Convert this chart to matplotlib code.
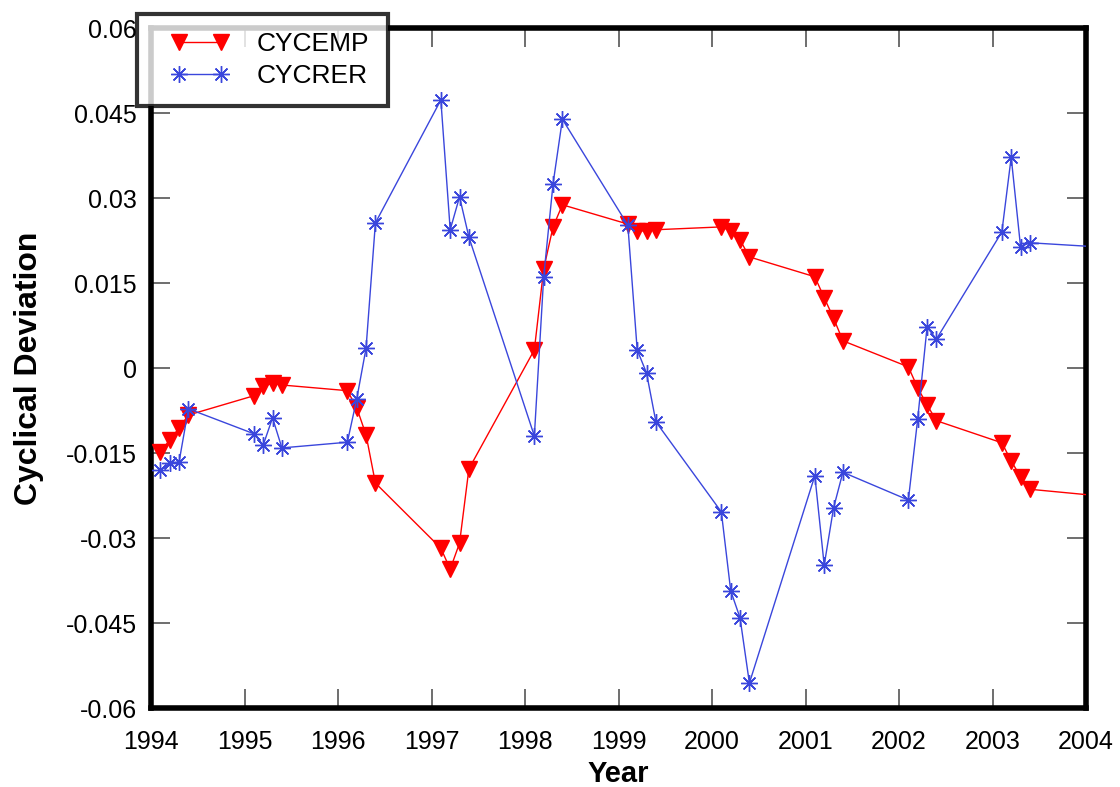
import matplotlib
matplotlib.use("Agg")
import matplotlib.pyplot as plt
from matplotlib.legend_handler import HandlerLine2D
from matplotlib.lines import Line2D

plt.rcParams['font.family'] = ['Liberation Sans', 'DejaVu Sans']

years = [1994, 1995, 1996, 1997, 1998, 1999, 2000, 2001, 2002, 2003, 2004]
quarter_step = 0.1

cycemp = [
    -0.0148, -0.0127, -0.0106, -0.0083,
    -0.0049, -0.0032, -0.0027, -0.0030,
    -0.0040, -0.0070, -0.0118, -0.0203,
    -0.0318, -0.0355, -0.0309, -0.0178,
    0.0032, 0.0175, 0.0249, 0.0288,
    0.0254, 0.0242, 0.0242, 0.0244,
    0.0249, 0.0242, 0.0226, 0.0196,
    0.0161, 0.0124, 0.0088, 0.0048,
    0.0002, -0.0035, -0.0065, -0.0093,
    -0.0132, -0.0164, -0.0192, -0.0214,
    -0.0225,
]
cycrer = [
    -0.0180, -0.0168, -0.0166, -0.0072,
    -0.0116, -0.0136, -0.0088, -0.0141,
    -0.0131, -0.0055, 0.0035, 0.0256,
    0.0473, 0.0244, 0.0302, 0.0231,
    -0.0120, 0.0161, 0.0325, 0.0439,
    0.0252, 0.0032, -0.0009, -0.0095,
    -0.0254, -0.0393, -0.0441, -0.0556,
    -0.0190, -0.0348, -0.0247, -0.0184,
    -0.0233, -0.0090, 0.0072, 0.0051,
    0.0240, 0.0372, 0.0214, 0.0221,
    0.0214,
]

# x positions: year + quarter/10 (as in the source plot)
x = []
for y in years:
    for q in range(1, 5):
        x.append(y + q * quarter_step)
x = x[:len(cycemp)]

xticks = years
yticks = [-0.06, -0.045, -0.03, -0.015, 0, 0.015, 0.03, 0.045, 0.06]
yticklabels = ['-0.06', '-0.045', '-0.03', '-0.015', '0', '0.015', '0.03', '0.045', '0.06']

RED = '#ff0000'
BLUE = '#3a46dc'

fig = plt.figure(figsize=(11.2, 7.87), dpi=100)
ax = fig.add_axes([151/1120, 1 - 708/787, (1086 - 151)/1120, (708 - 28)/787])

ax.plot(x, cycemp, color=RED, lw=1.0, marker='v', ms=11,
        markerfacecolor=RED, markeredgecolor=RED, label='CYCEMP', zorder=3)
ax.plot(x, cycrer, color=BLUE, lw=1.0, marker=(8, 2, 0), ms=12,
        markeredgecolor=BLUE, markeredgewidth=1.0, label='CYCRER', zorder=4)

ax.set_xlim(1994, 2004)
ax.set_ylim(-0.06, 0.06)
ax.set_xticks(xticks)
ax.set_xticklabels([str(v) for v in xticks])
ax.set_yticks(yticks)
ax.set_yticklabels(yticklabels)

for s in ax.spines.values():
    s.set_linewidth(4)
    s.set_color('black')

ax.tick_params(axis='both', which='major', direction='in', length=14, width=1.2,
               color='#555555', labelsize=18, top=True, right=True)
ax.tick_params(axis='x', pad=16)
ax.tick_params(axis='y', pad=10)

ax.set_xlabel('Year', fontsize=21, fontweight='bold', labelpad=4)
ax.set_ylabel('Cyclical Deviation', fontsize=23, fontweight='bold')
ax.yaxis.set_label_coords((44 - 151) / 935, 0.5)

leg = ax.legend(loc='upper left', bbox_to_anchor=(-14/935, 1 + 14/680), numpoints=2,
                fontsize=19, frameon=True, fancybox=False, borderaxespad=0,
                handlelength=3.4, borderpad=0.7, labelspacing=0.28, handletextpad=0.45,
                handler_map={Line2D: HandlerLine2D(marker_pad=0.9)})
leg.get_frame().set_edgecolor('black')
leg.get_frame().set_linewidth(3)
leg.set_zorder(10)

fig.savefig('out.png', dpi=100)
